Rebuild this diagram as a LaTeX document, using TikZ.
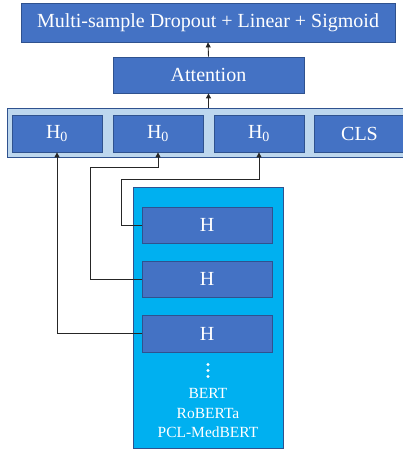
\documentclass[tikz,border=0pt]{standalone}
\usepackage{fontspec}
\setmainfont{Liberation Serif}
\usetikzlibrary{arrows.meta}
\definecolor{ofblue}{HTML}{4472C4}
\definecolor{ofedge}{HTML}{2F528F}
\definecolor{rowfill}{HTML}{BDD7EE}
\definecolor{encfill}{HTML}{00B0F0}
\definecolor{lnc}{HTML}{262626}
\begin{document}
\begin{tikzpicture}[x=1pt,y=-1pt,
  box/.style={draw=ofedge, fill=ofblue, line width=0.8pt, text=white, inner sep=0pt,
    font=\rmfamily\fontsize{20}{24}\selectfont},
  hbox/.style={box, minimum width=90pt, minimum height=37pt},
  ebox/.style={box, minimum width=130pt, minimum height=36pt},
  conn/.style={draw=lnc, line width=0.9pt, -{Triangle[length=5pt,width=5pt]}},
  dot/.style={fill=white, draw=none, circle, minimum size=3.2pt, inner sep=0pt},
  small/.style={text=white, font=\rmfamily\fontsize{15.5}{17}\selectfont, inner sep=0pt}]
\useasboundingbox (0,0) rectangle (403,451);
% top
\node[box, minimum width=374pt, minimum height=39pt] (top) at (208,22.5) {Multi-sample Dropout + Linear + Sigmoid};
\node[box, minimum width=191pt, minimum height=36pt] (att) at (208.5,75) {Attention};
% row
\node[draw=ofedge, fill=rowfill, line width=0.8pt, minimum width=410pt, minimum height=49pt, inner sep=0pt] (row) at (212,132.5) {};
\node[hbox] (h01) at (57,133.5) {H\textsubscript{0}};
\node[hbox] (h02) at (158,133.5) {H\textsubscript{0}};
\node[hbox] (h03) at (259,133.5) {H\textsubscript{0}};
\node[hbox] (cls) at (359.5,133.5) {CLS};
% encoder
\node[draw=ofedge, fill=encfill, line width=0.8pt, minimum width=150pt, minimum height=261pt, inner sep=0pt] (enc) at (208,317.5) {};
\node[ebox] (h1) at (207,225) {H};
\node[ebox] (h2) at (207,279) {H};
\node[ebox, minimum height=37pt] (h3) at (207,333.5) {H};
\node[dot] (d1) at (208,364.5) {};
\node[dot] (d2) at (208,370.5) {};
\node[dot] (d3) at (208,376.5) {};
\node[small] (m1) at (208,393) {BERT};
\node[small] (m2) at (208,413) {RoBERTa};
\node[small] (m3) at (208,432) {PCL-MedBERT};
% arrows
\draw[conn] (att.north) -- (top.south);
\draw[conn] (att.south |- row.north) -- (att.south);
\draw[conn] (h1.west) -- ++(-20,0) -- ++(0,-46) -| (h03.south);
\draw[conn] (h2.west) -- ++(-51,0) -- ++(0,-112) -| (h02.south);
\draw[conn] (h3.west) -| (h01.south);
\end{tikzpicture}
\end{document}
